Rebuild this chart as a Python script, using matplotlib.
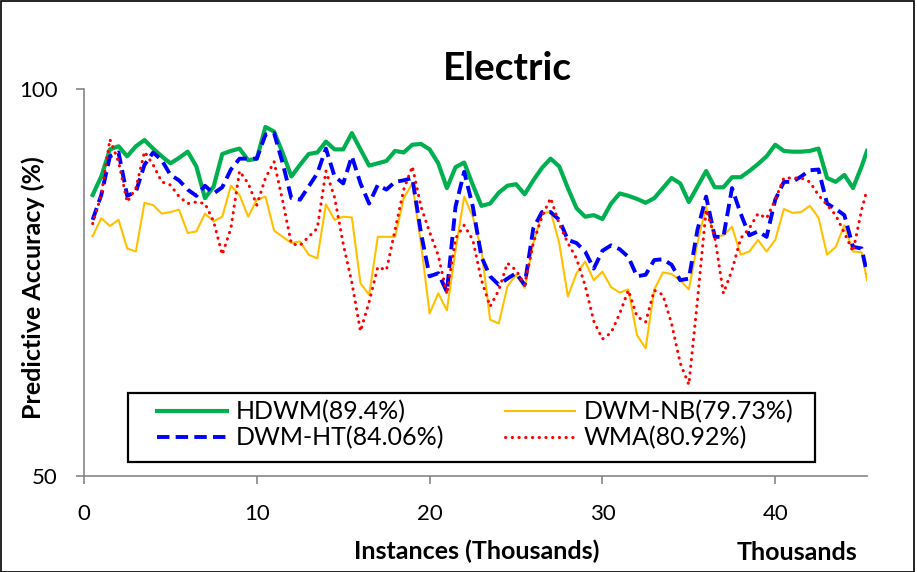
import numpy as np
import matplotlib
matplotlib.use("Agg")
import matplotlib.pyplot as plt
from matplotlib.patches import Rectangle

plt.rcParams['font.family'] = ['Lato', 'DejaVu Sans']

# x positions (thousands of instances)
instances = [0.5 * k for k in range(1, 91)] + [45.31]

hdwm = [86.3, 88.7, 92.2, 92.6, 91.3, 92.6, 93.4, 92.3, 91.3, 90.4,
        91.1, 91.9, 90.0, 85.9, 87.4, 91.6, 92.0, 92.3, 90.8, 91.0,
        95.1, 94.5, 91.7, 88.7, 90.2, 91.6, 91.8, 93.2, 92.2, 92.2,
        94.3, 92.2, 90.1, 90.4, 90.7, 92.0, 91.8, 92.8, 92.9, 92.2,
        90.4, 87.2, 89.9, 90.5, 87.6, 84.9, 85.2, 86.6, 87.5, 87.7,
        86.4, 88.2, 89.8, 91.0, 90.0, 87.2, 84.6, 83.5, 83.7, 83.2,
        85.2, 86.5, 86.2, 85.8, 85.3, 85.9, 87.2, 88.5, 87.8, 85.4,
        87.4, 89.4, 87.3, 87.3, 88.6, 88.6, 89.4, 90.3, 91.3, 92.8,
        92.0, 91.9, 91.9, 92.0, 92.3, 88.5, 88.0, 88.9, 87.2, 90.0,
        92.0]

dwm_nb = [81.0, 83.3, 82.3, 83.1, 79.4, 79.0, 85.3, 85.0, 83.9, 84.1,
          84.4, 81.4, 81.6, 83.9, 82.9, 83.5, 87.5, 86.3, 83.5, 85.7,
          86.1, 81.7, 80.9, 80.1, 80.3, 78.6, 78.1, 85.1, 83.1, 83.5,
          83.4, 74.9, 73.4, 80.9, 80.9, 80.9, 85.9, 87.8, 80.0, 71.0,
          73.6, 71.4, 79.2, 86.1, 83.5, 79.2, 70.2, 69.7, 74.5, 76.0,
          74.3, 80.1, 83.9, 84.2, 80.1, 73.2, 76.2, 77.7, 75.3, 76.4,
          74.4, 73.7, 74.1, 68.2, 66.5, 74.1, 76.3, 76.1, 75.3, 74.1,
          80.1, 84.8, 80.9, 81.1, 82.2, 78.6, 79.0, 80.5, 79.0, 80.5,
          84.5, 84.0, 84.1, 84.9, 83.4, 78.6, 79.6, 82.4, 79.0, 78.9,
          75.3]

dwm_ht = [83.1, 86.3, 91.3, 91.8, 86.2, 86.7, 90.2, 91.8, 90.8, 88.9,
          88.2, 87.0, 86.2, 87.5, 86.5, 87.3, 89.6, 91.0, 91.0, 91.0,
          94.1, 94.3, 90.4, 85.9, 85.7, 87.4, 89.1, 92.3, 88.7, 87.8,
          91.3, 87.8, 85.2, 87.6, 87.0, 88.0, 88.2, 88.5, 81.4, 75.8,
          76.2, 73.8, 84.8, 89.3, 84.8, 78.3, 75.8, 74.7, 75.5, 76.2,
          74.7, 82.0, 84.1, 84.1, 83.1, 80.5, 80.1, 79.0, 76.8, 79.1,
          79.8, 79.3, 78.3, 75.8, 76.0, 77.9, 78.0, 77.3, 75.3, 75.5,
          81.8, 86.1, 80.9, 80.9, 87.2, 83.9, 81.1, 81.6, 80.9, 85.7,
          88.0, 88.0, 88.7, 89.5, 89.6, 85.2, 84.5, 83.7, 79.6, 79.4,
          76.2]

wma = [82.6, 86.3, 93.5, 90.6, 85.4, 87.2, 91.9, 90.2, 88.0, 87.6,
       86.1, 85.2, 85.4, 85.2, 82.9, 78.6, 82.0, 89.4, 87.8, 85.0,
       88.5, 90.6, 85.5, 80.0, 79.8, 80.9, 82.0, 89.4, 86.0, 80.0,
       75.0, 68.7, 72.5, 77.0, 76.6, 81.8, 87.0, 90.0, 84.8, 81.5,
       78.5, 73.5, 80.7, 82.4, 80.5, 75.3, 71.9, 74.0, 77.5, 76.6,
       74.7, 80.1, 83.5, 85.9, 82.6, 80.1, 78.1, 74.6, 70.0, 67.7,
       68.5, 71.0, 74.0, 70.6, 69.9, 74.0, 73.4, 69.7, 64.6, 61.8,
       72.7, 84.4, 80.9, 73.6, 76.6, 80.7, 82.0, 83.9, 83.3, 85.7,
       88.5, 88.5, 88.5, 88.0, 86.3, 85.0, 83.7, 81.4, 79.0, 84.4,
       87.0]

labels = ['HDWM(89.4%)', 'DWM-NB(79.73%)', 'DWM-HT(84.06%)', 'WMA(80.92%)']
x_ticks = [0, 10, 20, 30, 40]
y_ticks = [50, 100]

W, H = 917, 572
fig = plt.figure(figsize=(W / 100, H / 100), dpi=100)
ax = fig.add_axes([84 / W, 1 - 476 / H, (867 - 84) / W, (476 - 89) / H])

l1, = ax.plot(instances, hdwm, color='#00B050', lw=3.0, solid_joinstyle='round')
l2, = ax.plot(instances, dwm_nb, color='#FFC000', lw=1.5)
l3, = ax.plot(instances, dwm_ht, color='#0000FF', lw=2.8, dashes=(3.2, 1.6), dash_capstyle='butt')
l4, = ax.plot(instances, wma, color='#FF0000', lw=2.2, dashes=(0.1, 2.1), dash_capstyle='round')

ax.set_xlim(0, 45.31)
ax.set_ylim(50, 100)
ax.set_xticks(x_ticks)
ax.set_yticks(y_ticks)
ax.tick_params(axis='both', direction='out', length=6, width=1.2, color='#868686',
               labelsize=16)
ax.tick_params(axis='x', pad=14)
ax.tick_params(axis='y', pad=13)
for s in ['top', 'right']:
    ax.spines[s].set_visible(False)
for s in ['left', 'bottom']:
    ax.spines[s].set_color('#868686')
    ax.spines[s].set_linewidth(1.2)

fig.text(507 / W, 1 - 68 / H, 'Electric', fontsize=28, fontweight='bold', ha='center', va='center')
fig.text(33 / W, 1 - 288 / H, 'Predictive Accuracy (%)', fontsize=18, fontweight='bold',
         rotation=90, ha='center', va='center')
fig.text(477 / W, 1 - 551 / H, 'Instances (Thousands)', fontsize=18, fontweight='bold',
         ha='center', va='center')
fig.text(797 / W, 1 - 553 / H, 'Thousands', fontsize=18, fontweight='bold',
         ha='center', va='center')

# legend frame
fig.add_artist(Rectangle((128 / W, 1 - 462 / H), (815 - 128) / W, (462 - 393) / H,
                         transform=fig.transFigure, facecolor='white',
                         edgecolor='black', lw=1.6, zorder=5))
leg = fig.legend([l1, l3, l2, l4], [labels[0], labels[2], labels[1], labels[3]],
                 ncol=2, loc='upper left', bbox_to_anchor=(157 / W, 1 - 400 / H),
                 fontsize=18, frameon=False, handlelength=2.8, handletextpad=0.36,
                 borderpad=0, labelspacing=0.12, columnspacing=2.4,
                 borderaxespad=0)
leg.set_zorder(6)

fig.add_artist(Rectangle((0.001, 0.0), 0.996, 0.999, transform=fig.transFigure,
                         fill=False, edgecolor='black', lw=1.2))

fig.savefig('out.png', dpi=100)
